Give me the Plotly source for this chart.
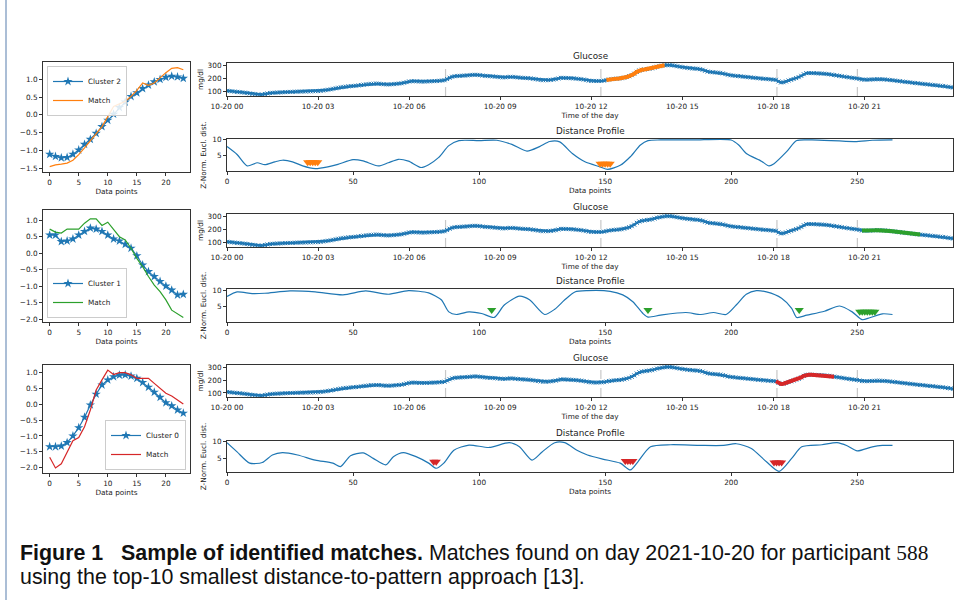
import plotly.graph_objects as go
import pandas as pd

W, H = 955, 600

# ---------------- data ----------------
day_start = "2021-10-20 00:00"
glucose = [
    108,106,104,102,100,98,96,94,91,88,85,82,
    79,78,80,84,88,91,93,94,95,96,97,98,
    99,100,100,101,102,102,103,103,104,104,105,105,
    106,108,110,113,116,119,123,127,131,134,137,139,
    141,143,144,146,148,151,154,156,158,160,161,162,
    161,159,157,156,156,157,158,160,162,164,168,173,
    178,180,180,179,178,177,177,178,179,180,180,181,
    183,185,187,196,206,213,217,219,220,221,222,223,
    225,227,228,227,225,222,220,218,217,216,214,212,
    210,208,209,211,213,212,210,208,206,205,204,203,
    201,198,195,192,189,187,187,188,190,192,195,200,
    205,205,204,203,202,201,199,197,195,192,188,184,
    182,181,181,182,182,184,188,192,195,197,199,200,
    202,206,211,217,225,236,250,260,265,268,271,273,
    276,282,288,292,296,299,300,300,299,296,292,288,
    285,282,279,277,275,274,273,270,265,258,252,249,
    247,245,244,242,238,233,228,224,222,220,218,216,
    214,212,210,208,206,204,202,200,198,197,195,193,
    191,190,178,170,172,178,185,190,196,203,210,220,
    232,240,241,241,240,239,238,237,236,234,232,229,
    226,223,220,217,214,211,208,205,203,200,196,192,
    191,191,192,193,194,195,195,194,193,191,189,187,
    185,182,180,177,175,173,171,168,166,164,162,160,
    158,156,154,152,150,148,146,144,141,138,135,132,
]
event_times = ["2021-10-20 07:12", "2021-10-20 12:19", "2021-10-20 18:07", "2021-10-20 20:46"]

cluster_names = ["Cluster 2", "Cluster 1", "Cluster 0"]
match_colors = ["#ff7f0e", "#2ca02c", "#d62728"]
match_start = [150, 251, 217]
window = 24

cluster_vals = [
    [-1.11,-1.17,-1.21,-1.20,-1.11,-0.99,-0.83,-0.69,-0.52,-0.33,-0.15,0.02,
     0.21,0.36,0.52,0.62,0.74,0.84,0.93,1.00,1.06,1.09,1.07,1.03],
    [0.55,0.55,0.35,0.37,0.43,0.55,0.66,0.76,0.73,0.66,0.55,0.43,
     0.37,0.27,0.15,-0.08,-0.36,-0.56,-0.71,-0.86,-1.00,-1.12,-1.27,-1.25],
    [-1.34,-1.34,-1.32,-1.21,-1.00,-0.74,-0.41,-0.02,0.32,0.61,0.77,0.87,
     0.92,0.93,0.89,0.82,0.69,0.54,0.38,0.22,0.05,-0.05,-0.18,-0.28],
]
match_vals = [
    [-1.46,-1.41,-1.39,-1.36,-1.28,-1.12,-0.93,-0.74,-0.55,-0.33,-0.05,0.24,
     0.31,0.38,0.52,0.69,0.90,0.83,0.90,1.05,1.19,1.31,1.33,1.27],
    [0.73,0.64,0.61,0.73,0.73,0.73,0.91,1.04,1.04,0.84,0.94,0.71,
     0.50,0.40,0.15,-0.16,-0.41,-0.71,-0.97,-1.17,-1.42,-1.73,-1.83,-1.95],
    [-1.67,-2.01,-1.88,-1.53,-1.15,-1.05,-0.71,-0.18,0.45,0.77,1.08,0.94,
     1.00,1.00,0.93,0.82,0.82,0.82,0.66,0.51,0.35,0.26,0.14,0.01],
]

dp_x = [
    [0,4,8,12,15,19,22,26,30,35,40,44,50,54,60,64,68,72,77,80,84,88,92,100,107,113,119,124,
     128,132,137,142,148,151,156,160,164,167,172,185,200,203,206,212,215,217,222,226,232,249,256,264],
    [0,4,10,15,25,35,46,55,64,72,80,85,88,91,96,101,106,110,116,120,126,130,134,138,143,152,
     157,161,165,167,172,182,188,193,198,202,206,210,214,220,224,226,230,237,243,248,252,255,260,264],
    [0,4,9,14,18,22,28,35,42,45,49,54,58,63,66,70,75,80,83,86,90,96,104,112,116,121,125,130,
     134,139,143,149,156,160,163,168,176,188,197,202,208,214,219,224,228,236,242,246,250,256,260,264],
]
dp_y = [
    [7.8,5.3,1.7,2.7,2.1,3.0,3.5,3.0,1.7,0.85,1.4,2.2,3.7,3.3,1.7,2.7,3.8,3.2,1.2,2.1,4.4,8.1,9.7,9.7,9.8,8.5,6.4,7.8,
     9.4,9.3,5.6,3.0,1.4,0.6,1.9,4.6,8.3,9.7,9.9,9.9,9.9,8.3,5.6,3.2,1.7,2.4,6.2,9.7,9.9,9.4,9.8,9.9],
    [8.1,9.5,9.0,9.1,9.8,9.5,8.6,9.8,8.8,9.9,9.2,7.1,3.4,2.6,3.4,2.9,1.7,5.5,8.2,7.1,2.6,4.2,7.1,9.5,9.9,9.7,
     8.6,6.5,2.9,1.8,2.4,3.2,2.6,3.2,2.6,5.5,8.8,9.9,9.5,7.6,4.5,1.7,2.4,3.6,5.2,3.4,1.0,1.6,2.8,2.6],
    [9.6,6.9,3.6,3.8,6.0,6.7,6.0,4.5,3.6,2.6,5.8,6.6,5.0,3.1,5.5,6.7,5.5,3.6,2.1,3.6,7.4,8.9,8.2,9.6,8.4,4.5,6.9,9.6,
     9.6,7.3,6.0,4.8,3.6,1.6,4.0,8.4,9.0,8.8,8.8,9.3,7.9,4.0,1.2,5.0,8.4,9.0,9.6,8.7,7.2,8.4,8.8,8.8],
]
top_idx = [
    [32,33,34,35,36,148,149,150,151,152],
    [105,167,227,251,252,253,254,255,256,257],
    [82,83,158,159,160,161,217,218,219,220],
]
top_y = [
    [2.9]*5 + [2.4]*5,
    [4.0,4.0,4.0,3.4,3.4,3.4,3.4,3.4,3.4,3.4],
    [4.0,4.0,4.2,4.2,4.2,4.2,3.8,3.8,3.8,3.8],
]

# ---------------- layout helpers ----------------
BLUE = "#1f77b4"
FONT = "DejaVu Sans"
TS = 7.3

def xd(a, b):
    return [a / W, b / W]

def yd(t, b):
    return [1 - b / H, 1 - t / H]

times = pd.date_range(day_start, periods=len(glucose), freq="5min")

rows_px = [  # (left top, left bottom), (glu top, glu bottom), (dist top, dist bottom)
    ((62, 172), (63, 96), (139, 171)),
    ((210, 322), (214, 247), (289, 322)),
    ((365, 473), (365, 397), (441, 472)),
]
left_yrange = [[-1.61, 1.49], [-2.09, 1.31], [-2.17, 1.24]]
dist_yrange = [[0.1, 10.2], [0.3, 10.4], [1.0, 10.1]]
legend_pos = [
    dict(x=47 / W, y=1 - 66 / H, xanchor="left", yanchor="top"),
    dict(x=47 / W, y=1 - 318 / H, xanchor="left", yanchor="bottom"),
    dict(x=186 / W, y=1 - 470 / H, xanchor="right", yanchor="bottom"),
]

axis_common = dict(
    showline=True, mirror=True, linecolor="#333", linewidth=1,
    ticks="outside", ticklen=3, tickcolor="#333", tickwidth=1,
    tickfont=dict(family=FONT, size=TS, color="#222"),
    showgrid=False, zeroline=False, automargin=False,
)
title_font = dict(family=FONT, size=TS, color="#222")

fig = go.Figure()
layout = dict(
    width=W, height=H, margin=dict(l=0, r=0, t=0, b=0, autoexpand=False),
    paper_bgcolor="white", plot_bgcolor="white",
    font=dict(family=FONT, size=TS, color="#222"),
)
annotations = []
shapes = []

for r in range(3):
    (lt, lb), (gt, gb), (dt, db) = rows_px[r]
    ia, ib, ic = 3 * r + 1, 3 * r + 2, 3 * r + 3
    sa = "" if ia == 1 else str(ia)
    leg = "legend" if r == 0 else f"legend{r + 1}"

    # left panel: cluster vs match
    fig.add_trace(go.Scatter(
        x=list(range(window)), y=cluster_vals[r], mode="lines+markers",
        name=cluster_names[r], line=dict(color=BLUE, width=1.2),
        marker=dict(symbol="star", size=7, color=BLUE),
        xaxis=f"x{sa}", yaxis=f"y{sa}", legend=leg))
    fig.add_trace(go.Scatter(
        x=list(range(window)), y=match_vals[r], mode="lines",
        name="Match", line=dict(color=match_colors[r], width=1.2),
        xaxis=f"x{sa}", yaxis=f"y{sa}", legend=leg))
    layout[f"xaxis{ia}"] = dict(axis_common, domain=xd(43, 190), anchor=f"y{sa}",
                                range=[-1.15, 24.15], tickvals=[0, 5, 10, 15, 20],
                                title=dict(text="Data points", font=title_font, standoff=2))
    layout[f"yaxis{ia}"] = dict(axis_common, domain=yd(lt, lb), anchor=f"x{sa}",
                                range=left_yrange[r], dtick=0.5, tick0=0, tickformat=".1f")
    layout[leg] = dict(legend_pos[r], bgcolor="rgba(255,255,255,0.85)", bordercolor="#cccccc",
                       borderwidth=1, font=dict(family=FONT, size=TS, color="#222"),
                       itemwidth=30, tracegroupgap=0)

    # glucose panel
    fig.add_trace(go.Scatter(
        x=times, y=glucose, mode="lines+markers", showlegend=False,
        line=dict(color=BLUE, width=2.5),
        marker=dict(symbol="x-thin", size=4, line=dict(color=BLUE, width=1)),
        xaxis=f"x{ib}", yaxis=f"y{ib}"))
    s = match_start[r]
    fig.add_trace(go.Scatter(
        x=times[s:s + window], y=glucose[s:s + window], mode="lines", showlegend=False,
        line=dict(color=match_colors[r], width=4),
        xaxis=f"x{ib}", yaxis=f"y{ib}"))
    layout[f"xaxis{ib}"] = dict(axis_common, domain=xd(227, 953), anchor=f"y{ib}", type="date",
                                range=[times[0], times[-1]], tick0=day_start, dtick=3 * 3600 * 1000,
                                tickformat="%m-%d %H",
                                title=dict(text="Time of the day", font=title_font, standoff=2))
    layout[f"yaxis{ib}"] = dict(axis_common, domain=yd(gt, gb), anchor=f"x{ib}",
                                range=[69, 316], tickvals=[100, 200, 300],
                                title=dict(text="mg/dl", font=title_font, standoff=3))
    for et in event_times:
        shapes.append(dict(type="line", xref=f"x{ib}", yref=f"y{ib} domain", x0=et, x1=et,
                           y0=0, y1=1, line=dict(color="#c8c8c8", width=1.2, dash="dash"),
                           layer="below"))
    annotations.append(dict(text="Glucose", xref="paper", yref="paper", x=590 / W,
                            y=1 - (gt - 7) / H, showarrow=False, xanchor="center", yanchor="middle",
                            font=dict(family=FONT, size=8.8, color="#222")))

    # distance profile panel
    fig.add_trace(go.Scatter(
        x=dp_x[r], y=dp_y[r], mode="lines", showlegend=False,
        line=dict(color=BLUE, width=1.2, shape="spline", smoothing=0.7),
        xaxis=f"x{ic}", yaxis=f"y{ic}"))
    fig.add_trace(go.Scatter(
        x=top_idx[r], y=top_y[r], mode="markers", showlegend=False,
        marker=dict(symbol="triangle-down", size=8, color=match_colors[r]),
        xaxis=f"x{ic}", yaxis=f"y{ic}"))
    layout[f"xaxis{ic}"] = dict(axis_common, domain=xd(227, 953), anchor=f"y{ic}",
                                range=[0, 288], tickvals=[0, 50, 100, 150, 200, 250],
                                title=dict(text="Data points", font=title_font, standoff=2))
    layout[f"yaxis{ic}"] = dict(axis_common, domain=yd(dt, db), anchor=f"x{ic}",
                                range=dist_yrange[r], tickvals=[5, 10],
                                title=dict(text="Z-Norm. Eucl. dist.", font=title_font, standoff=4))
    annotations.append(dict(text="Distance Profile", xref="paper", yref="paper", x=590 / W,
                            y=1 - (dt - 8) / H, showarrow=False, xanchor="center", yanchor="middle",
                            font=dict(family=FONT, size=8.8, color="#222")))

# caption
cap_font = dict(family="Liberation Sans", size=21.4, color="#111")
annotations.append(dict(
    text='<b>Figure 1   Sample of identified matches.</b> Matches found on day 2021-10-20 for participant '
         '<span style="font-family:Liberation Serif">588</span>',
    xref="paper", yref="paper", x=18 / W, y=1 - 553 / H, xanchor="left", yanchor="middle",
    showarrow=False, font=cap_font, align="left"))
annotations.append(dict(
    text="using the top-10 smallest distance-to-pattern approach [13].",
    xref="paper", yref="paper", x=18 / W, y=1 - 577 / H, xanchor="left", yanchor="middle",
    showarrow=False, font=cap_font, align="left"))

# page frame
shapes.append(dict(type="line", xref="paper", yref="paper", x0=6 / W, x1=6 / W, y0=0, y1=1,
                   line=dict(color="#8fa8c8", width=1.5)))

layout["annotations"] = annotations
layout["shapes"] = shapes
fig.update_layout(**layout)
fig.write_html("out.html", config={"displayModeBar": False},
               post_script="document.body.style.margin='0';document.body.style.overflow='hidden';")
